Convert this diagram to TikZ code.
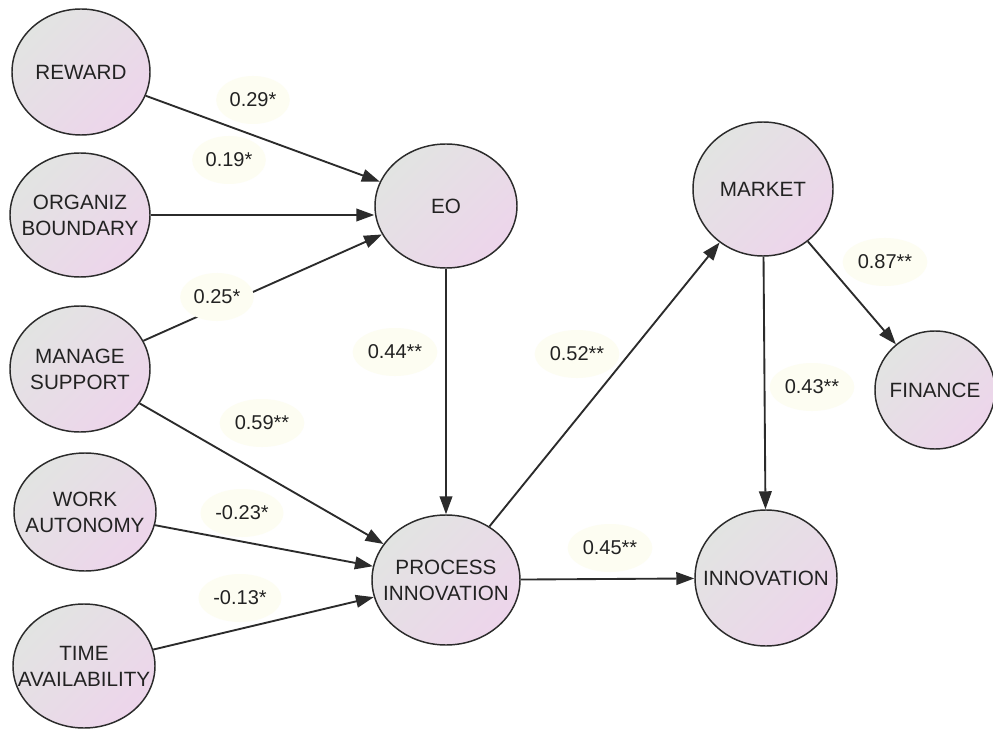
\documentclass[tikz,border=0pt]{standalone}
\usepackage{fontspec}
\setmainfont{Liberation Sans}
\usetikzlibrary{shapes.geometric,arrows.meta}
\definecolor{nodeA}{HTML}{E2E4E2}
\definecolor{nodeB}{HTML}{EDD5EB}
\definecolor{edgec}{HTML}{2B2B2B}
\definecolor{labbg}{HTML}{FDFDF2}
\definecolor{txt}{HTML}{222222}
\begin{document}
\begin{tikzpicture}[x=0.75pt,y=-0.75pt,
 var/.style={ellipse, draw=edgec, line width=1.1pt, top color=nodeA, bottom color=nodeB, shading angle=45, inner sep=0pt},
 vtext/.style={font=\fontsize{15.5}{19.5}\selectfont, text=txt, align=center, inner sep=0pt},
 coef/.style={ellipse, fill=labbg, inner sep=2pt, minimum height=36pt, minimum width=54pt, font=\fontsize{15}{18}\selectfont, text=txt},
 arr/.style={draw=edgec, line width=1.4pt, -{Triangle[length=13.5pt,width=9.5pt]}}]
\fill[white] (0,0) rectangle (993,731);
\useasboundingbox (0,0) rectangle (993,731);
% variables
\node[var, minimum width=103.5pt, minimum height=94.5pt, label={[vtext]center:REWARD}] (reward) at (81,72) {};
\node[var, minimum width=105pt, minimum height=93pt, label={[vtext]center:ORGANIZ\\BOUNDARY}] (organiz) at (80,215) {};
\node[var, minimum width=105pt, minimum height=94.5pt, label={[vtext]center:MANAGE\\SUPPORT}] (manage) at (80,369) {};
\node[var, minimum width=106.5pt, minimum height=88.5pt, label={[vtext]center:WORK\\AUTONOMY}] (work) at (85,512) {};
\node[var, minimum width=106.5pt, minimum height=93pt, label={[vtext]center:TIME\\AVAILABILITY}] (time) at (84,666) {};
\node[var, minimum width=106.5pt, minimum height=93pt, label={[vtext]center:EO}] (eo) at (446,206) {};
\node[var, minimum width=111pt, minimum height=97.5pt, label={[vtext]center:PROCESS\\INNOVATION}] (proc) at (446,580) {};
\node[var, minimum width=105pt, minimum height=100.5pt, label={[vtext]center:MARKET}] (market) at (763,189) {};
\node[var, minimum width=90pt, minimum height=88.5pt, label={[vtext]center:FINANCE}] (finance) at (935,390) {};
\node[var, minimum width=106.5pt, minimum height=102pt, label={[vtext]center:INNOVATION}] (innov) at (766,578) {};
% paths
\draw[arr] (reward) -- (eo);
\draw[arr] (organiz) -- (organiz -| eo.west);
\draw[arr] (manage) -- (eo);
\draw[arr] (manage) -- (proc);
\draw[arr] (work) -- (proc);
\draw[arr] (time) -- (proc);
\draw[arr] (eo) -- (proc);
\draw[arr] (proc) -- (market);
\draw[arr] (proc) -- (innov);
\draw[arr] (market) -- (innov);
\draw[arr] (market) -- (finance);
% coefficients
\node[coef] (c1) at (253,100) {0.29*};
\node[coef] (c2) at (229,160) {0.19*};
\node[coef] (c3) at (217,297) {0.25*};
\node[coef] (c4) at (395,352) {0.44**};
\node[coef] (c5) at (262,423) {0.59**};
\node[coef] (c6) at (242,513) {-0.23*};
\node[coef] (c7) at (240,598) {-0.13*};
\node[coef] (c8) at (577,354) {0.52**};
\node[coef] (c9) at (610,548) {0.45**};
\node[coef] (c10) at (812,387) {0.43**};
\node[coef] (c11) at (885,262) {0.87**};
\end{tikzpicture}
\end{document}
